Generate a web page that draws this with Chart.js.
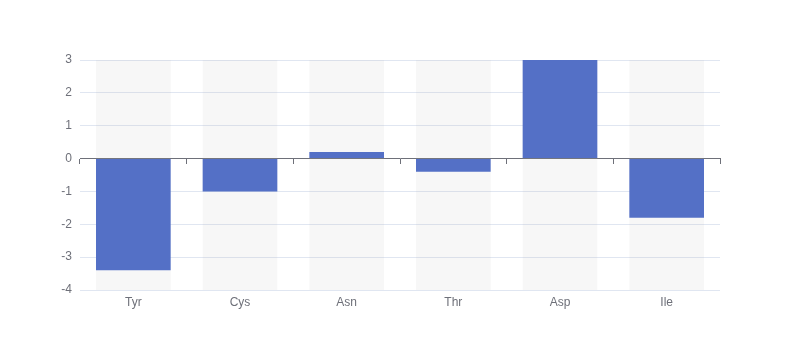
<!DOCTYPE html>
<html>
<head>
<meta charset="utf-8">
<script src="https://cdn.jsdelivr.net/npm/chart.js@4/dist/chart.umd.min.js"></script>
<style>
  html, body { margin: 0; padding: 0; background: #fff; }
  #wrap { width: 800px; height: 360px; }
</style>
</head>
<body>
<div id="wrap"><canvas id="chart"></canvas></div>
<script>
const categories = ["Tyr", "Cys", "Asn", "Thr", "Asp", "Ile"];
const values = [-3.4, -1, 0.2, -0.4, 3, -1.8];
const yMin = -4;
const yMax = 3;

const axisColor = "#6E7079";
const gridColor = "#E0E6F1";
const barColor = "#5470c6";
const bandColor = "rgba(180,180,180,0.1)";

new Chart(document.getElementById("chart"), {
  type: "bar",
  data: {
    labels: categories,
    datasets: [
      {
        label: "value",
        data: values,
        backgroundColor: barColor,
        grouped: false,
        order: 1
      },
      {
        label: "background",
        data: categories.map(() => [yMin, yMax]),
        backgroundColor: bandColor,
        grouped: false,
        order: 2
      }
    ]
  },
  options: {
    responsive: true, maintainAspectRatio: false, animation: false,
    layout: { padding: { top: 60, right: 80, left: 0, bottom: 0 } },
    datasets: { bar: { barPercentage: 0.7, categoryPercentage: 1 } },
    plugins: { legend: { display: false }, tooltip: { enabled: false } },
    scales: {
      x: {
        grid: { display: false, drawTicks: false },
        border: { display: false },
        ticks: { color: axisColor, font: { size: 12 }, padding: 5 },
        afterFit: s => { s.height = 70; }
      },
      xZero: {
        type: "category",
        axis: "x",
        labels: categories,
        position: { y: 0 },
        offset: true,
        grid: { offset: true, drawOnChartArea: false, drawTicks: true, tickLength: 5, color: axisColor },
        border: { display: true, color: axisColor, width: 1 },
        ticks: { display: false }
      },
      y: {
        min: yMin, max: yMax,
        ticks: { stepSize: 1, color: axisColor, font: { size: 12 }, padding: 8 },
        grid: { color: gridColor, drawTicks: false },
        border: { display: false },
        afterFit: s => { s.width = 80; }
      }
    }
  }
});
</script>
</body>
</html>
